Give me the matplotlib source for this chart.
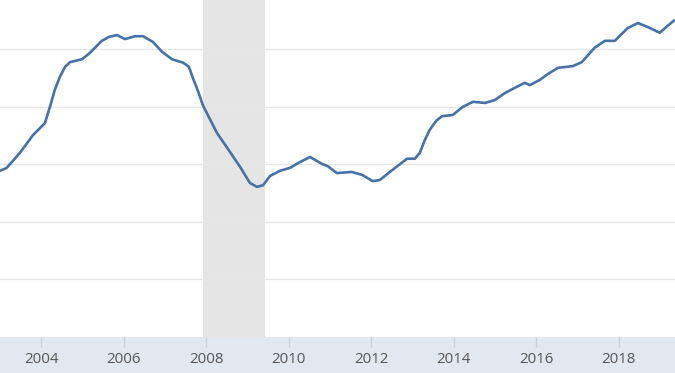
import matplotlib
matplotlib.use("Agg")
import matplotlib.pyplot as plt

# decimal year and value (grid step = 1 unit)
dates = [2003.00, 2003.16, 2003.48, 2003.80, 2004.09, 2004.21, 2004.33, 2004.45,
         2004.58, 2004.70, 2004.99, 2005.18, 2005.47, 2005.65, 2005.84, 2006.03,
         2006.27, 2006.47, 2006.71, 2006.93, 2007.17, 2007.44, 2007.58, 2007.68,
         2007.80, 2007.92, 2008.26, 2008.50, 2008.82, 2009.06, 2009.23, 2009.38,
         2009.55, 2009.79, 2010.03, 2010.27, 2010.52, 2010.81, 2010.95, 2011.17,
         2011.53, 2011.78, 2012.04, 2012.21, 2012.58, 2012.87, 2013.06, 2013.18,
         2013.30, 2013.42, 2013.58, 2013.72, 2013.98, 2014.22, 2014.47, 2014.76,
         2015.00, 2015.24, 2015.53, 2015.73, 2015.85, 2016.09, 2016.28, 2016.53,
         2016.89, 2017.11, 2017.42, 2017.67, 2017.91, 2018.22, 2018.47, 2018.71,
         2019.00, 2019.19, 2019.34]
values = [2.89, 2.94, 3.20, 3.51, 3.72, 4.00, 4.30, 4.52,
          4.70, 4.78, 4.83, 4.94, 5.15, 5.22, 5.25, 5.18,
          5.23, 5.23, 5.13, 4.96, 4.83, 4.77, 4.70, 4.50,
          4.28, 4.03, 3.55, 3.30, 2.96, 2.68, 2.61, 2.64,
          2.80, 2.89, 2.94, 3.04, 3.13, 3.01, 2.97, 2.85,
          2.87, 2.82, 2.71, 2.73, 2.94, 3.10, 3.10, 3.20,
          3.42, 3.60, 3.76, 3.84, 3.86, 4.00, 4.09, 4.07,
          4.12, 4.24, 4.35, 4.42, 4.38, 4.47, 4.57, 4.68,
          4.71, 4.78, 5.03, 5.15, 5.15, 5.37, 5.46, 5.39,
          5.29, 5.41, 5.50]

recession = (2007.92, 2009.42)
tick_years = [2004, 2006, 2008, 2010, 2012, 2014, 2016, 2018]

fig = plt.figure(figsize=(6.75, 3.73), dpi=100)
fig.patch.set_facecolor('#e1e8ef')
ax = fig.add_axes([0, 36 / 373, 1, 337 / 373])
ax.set_facecolor('white')

ax.axvspan(recession[0], recession[1], color='#e5e5e5', zorder=0, lw=0)
for g in [1, 2, 3, 4, 5]:
    ax.axhline(g, color='#e6e6e6', lw=1.0, zorder=1)

ax.plot(dates, values, color='#4572a7', lw=1.9, zorder=3, solid_joinstyle='round')

ax.set_xlim(2003.0, 2019.37)
ax.set_ylim(0, 5.86)
ax.set_yticks([])
ax.set_xticks(tick_years)
ax.set_xticklabels([str(y) for y in tick_years], fontsize=10.8,
                   family=['Open Sans', 'DejaVu Sans'], color='#555555')
ax.tick_params(axis='x', direction='out', length=7, width=1, color='#c8d0da', pad=4)
for s in ax.spines.values():
    s.set_visible(False)

fig.savefig('out.png', dpi=100, facecolor=fig.get_facecolor())
